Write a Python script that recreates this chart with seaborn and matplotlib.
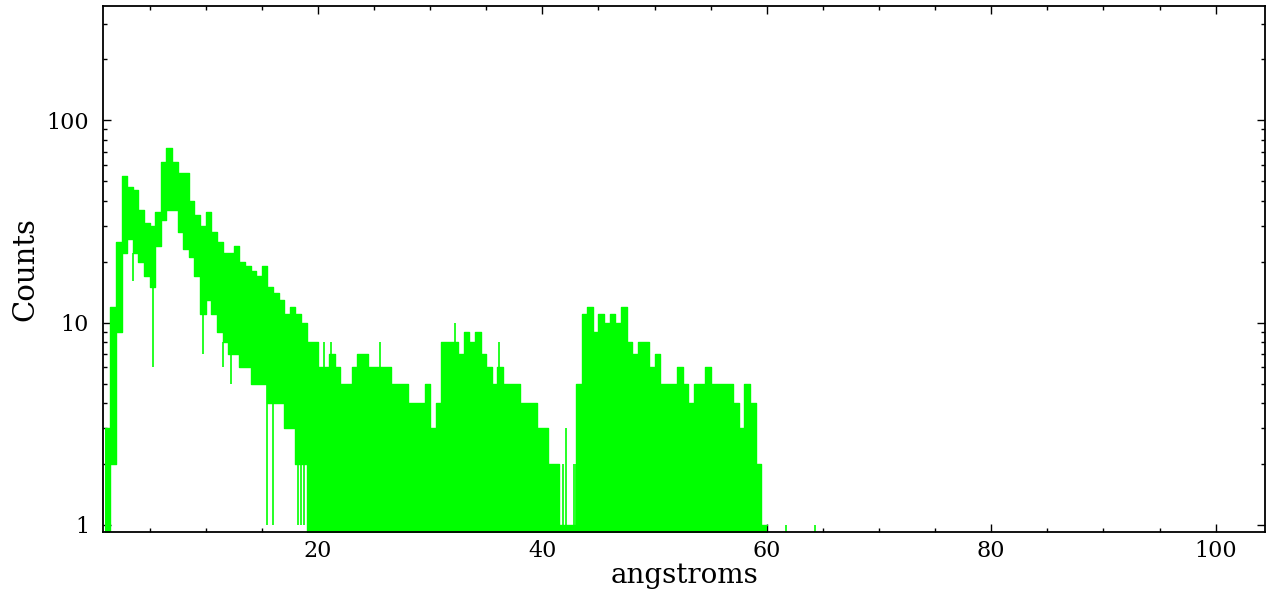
import numpy as np
import pandas as pd
import seaborn as sns
import matplotlib.pyplot as plt

# Spectrum: per 0.5 angstrom bin, the top and the bulk bottom of the counts
bin_start = 1.0
bin_width = 0.5
upper = [3, 12, 25, 53, 47, 45, 36, 31, 30, 35,
         62, 73, 62, 55, 55, 40, 34, 30, 35, 28,
         25, 22, 22, 24, 20, 19, 18, 17, 19, 15,
         14, 13, 11, 12, 11, 10, 8, 8, 6, 6,
         7, 6, 5, 5, 6, 7, 7, 6, 6, 6,
         6, 5, 5, 5, 4, 4, 4, 5, 3, 4,
         8, 8, 8, 7, 9, 8, 9, 7, 6, 5,
         6, 5, 5, 5, 4, 4, 4, 3, 3, 2,
         2, 1, 1, 1, 5, 11, 12, 9, 11, 10,
         11, 10, 12, 8, 7, 8, 8, 6, 7, 5,
         5, 5, 6, 5, 4, 5, 5, 6, 5, 5,
         5, 5, 4, 3, 5, 4, 2, 1]
lower = [0.5, 2, 9, 22, 26, 22, 20, 17, 15, 24,
         32, 36, 36, 28, 23, 21, 17, 11, 13, 11,
         9, 8, 7, 7, 6, 6, 5, 5, 5, 4,
         4, 4, 3, 3, 2, 2] + [0.5] * 82

# thin single-channel spikes above the band
spike_x = [20.5, 21.15, 25.55, 32.2, 36.13, 41.84, 42.08, 42.8, 42.97]
spike_y = [8, 8, 8, 10, 8, 2, 3, 2, 2]
# thin single-channel dips below the band
dip_x = [3.5, 5.3, 9.75, 11.5, 12.3, 15.45, 16.0, 18.25, 18.5, 18.8]
dip_y = [16, 6, 7, 6, 5, 1, 1, 1, 1, 1]
# lone counts past the end of the spectrum
lone_x = [61.7, 64.3]
lone_y = [1, 1]

green = "#00ff00"

sns.set_style("ticks")
plt.rcParams["font.family"] = ["DejaVu Serif"]
plt.rcParams["text.color"] = "black"
plt.rcParams["axes.labelcolor"] = "black"
plt.rcParams["xtick.color"] = "black"
plt.rcParams["ytick.color"] = "black"

edges = bin_start + bin_width * np.arange(len(upper) + 1)
df = pd.DataFrame({"angstroms": edges,
                   "upper": upper + [upper[-1]],
                   "lower": lower + [lower[-1]]})

fig = plt.figure(figsize=(12.7, 5.96), dpi=100)
ax = fig.add_axes([0.0811, 0.1074, 0.9150, 0.8826])

ax.fill_between(df["angstroms"], df["lower"], df["upper"], step="post",
                color=green, linewidth=0)
sns.lineplot(data=df, x="angstroms", y="upper", color=green, lw=1,
             drawstyle="steps-post", estimator=None, sort=False, ax=ax)
sns.lineplot(data=df, x="angstroms", y="lower", color=green, lw=1,
             drawstyle="steps-post", estimator=None, sort=False, ax=ax)

ax.vlines(spike_x, 0.5, spike_y, color=green, lw=1.2)
idx = ((np.array(dip_x) - bin_start) / bin_width).astype(int)
ax.vlines(dip_x, dip_y, np.array(lower)[idx], color=green, lw=1.2)
ax.vlines(lone_x, 0.5, lone_y, color=green, lw=1.2)

ax.set_yscale("log")
ax.set_xlim(0.85, 104.4)
ax.set_ylim(0.923, 367)

ax.set_xticks([20, 40, 60, 80, 100])
ax.set_xticks(np.arange(5, 105, 5), minor=True)
ax.set_yticks([1, 10, 100], labels=["1", "10", "100"])

ax.tick_params(which="both", direction="in", top=True, right=True,
               color="black", width=1)
ax.tick_params(which="major", length=6, labelsize=16, labelcolor="black")
ax.tick_params(axis="x", which="major", pad=6)
ax.tick_params(axis="y", which="major", pad=10)
ax.tick_params(which="minor", length=3)

for sp in ax.spines.values():
    sp.set_color("black")
    sp.set_linewidth(1.3)

ax.set_xlabel("angstroms", fontsize=20, labelpad=0)
ax.set_ylabel("Counts", fontsize=21, labelpad=5)

fig.savefig("out.png", dpi=100, facecolor="white")
